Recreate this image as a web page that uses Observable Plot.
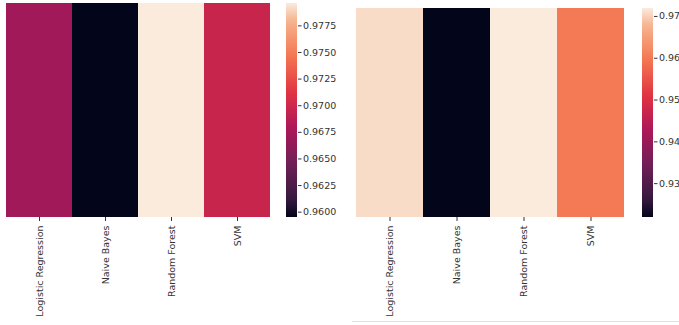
<!DOCTYPE html>
<html>
<head>
<meta charset="utf-8">
<script src="https://cdn.jsdelivr.net/npm/d3@7"></script>
<script src="https://cdn.jsdelivr.net/npm/@observablehq/plot@0.6"></script>
<style>
  html, body { margin: 0; padding: 0; background: #fff; overflow: hidden; }
  #root { position: relative; width: 679px; height: 325px; background: #fff; }
  #root svg { position: absolute; top: 0; background: transparent; }
  .baseline { position: absolute; left: 352px; top: 321px; width: 327px; height: 1px; background: #e2e2e2; }
</style>
</head>
<body>
<div id="root"><div class="baseline"></div></div>
<script>
// ---- data ----
const models = ["Logistic Regression", "Naive Bayes", "Random Forest", "SVM"];
const scoresLeft = [0.9672, 0.9595, 0.9796, 0.9696];
const scoresRight = [0.9708, 0.9219, 0.9719, 0.9599];
const ticksLeft = [0.96, 0.9625, 0.965, 0.9675, 0.97, 0.9725, 0.975, 0.9775];
const ticksRight = [0.93, 0.94, 0.95, 0.96, 0.97];

// ---- seaborn "rocket" colormap anchors (style) ----
const rocketPos = [0, 0.0833, 0.25, 0.4167, 0.5833, 0.75, 0.9167, 1];
const rocketCol = ["#03051a", "#35193e", "#701f57", "#ad1759", "#e13342", "#f37651", "#f6b48f", "#faebdd"];
const rocketScale = d3.scaleLinear().domain(rocketPos).range(rocketCol).clamp(true);
const rocket = (t) => rocketScale(t);

const font = { fontFamily: "DejaVu Sans, sans-serif", fontSize: "9.5px", color: "#333", background: "transparent" };
const root = document.getElementById("root");

function panel({ scores, ticks, fmt, left, heatW, marginL, marginT, cbLeft, cbW, cbMarginL, gid }) {
  const rows = models.map((m, i) => ({ model: m, score: scores[i] }));
  const extent = d3.extent(scores);
  const color = { type: "linear", domain: extent, interpolate: rocket };

  const heat = Plot.plot({
    width: heatW, height: 325,
    marginLeft: marginL, marginRight: 10, marginTop: marginT, marginBottom: 108,
    style: font,
    x: { domain: models, padding: 0, label: null, tickRotate: -90, tickSize: 4, tickPadding: 4 },
    y: { axis: null },
    color,
    marks: [Plot.cell(rows, { x: "model", fill: "score", inset: 0 })]
  });
  heat.style.left = left + "px";
  root.appendChild(heat);

  const cb = Plot.plot({
    width: cbW, height: 325,
    marginLeft: cbMarginL, marginRight: cbW - cbMarginL - 11, marginTop: marginT, marginBottom: 108,
    style: font,
    x: { domain: [0, 1], axis: null },
    y: { domain: extent, axis: "right", ticks, tickFormat: d3.format(fmt), tickSize: 3.5, tickPadding: 2, label: null },
    color,
    marks: [Plot.rect([extent], { x1: 0, x2: 1, y1: (d) => d[0], y2: (d) => d[1], fill: "#888" })]
  });
  cb.style.left = cbLeft + "px";
  // gradient built from the library's colour scale
  const cs = cb.scale("color");
  const ns = "http://www.w3.org/2000/svg";
  const defs = document.createElementNS(ns, "defs");
  const grad = document.createElementNS(ns, "linearGradient");
  grad.setAttribute("id", gid);
  grad.setAttribute("x1", "0"); grad.setAttribute("y1", "1");
  grad.setAttribute("x2", "0"); grad.setAttribute("y2", "0");
  for (let k = 0; k <= 40; k++) {
    const t = k / 40;
    const s = document.createElementNS(ns, "stop");
    s.setAttribute("offset", t);
    s.setAttribute("stop-color", cs.apply(extent[0] + t * (extent[1] - extent[0])));
    grad.appendChild(s);
  }
  defs.appendChild(grad);
  cb.insertBefore(defs, cb.firstChild);
  cb.querySelectorAll("rect").forEach((r) => r.setAttribute("fill", `url(#${gid})`));
  root.appendChild(cb);
}

panel({ scores: scoresLeft, ticks: ticksLeft, fmt: ".4f", left: 0, heatW: 280, marginL: 5, marginT: 3,
        cbLeft: 280, cbW: 60, cbMarginL: 6, gid: "gradL" });
panel({ scores: scoresRight, ticks: ticksRight, fmt: ".2f", left: 340, heatW: 295, marginL: 15, marginT: 8,
        cbLeft: 635, cbW: 44, cbMarginL: 7, gid: "gradR" });
</script>
</body>
</html>
